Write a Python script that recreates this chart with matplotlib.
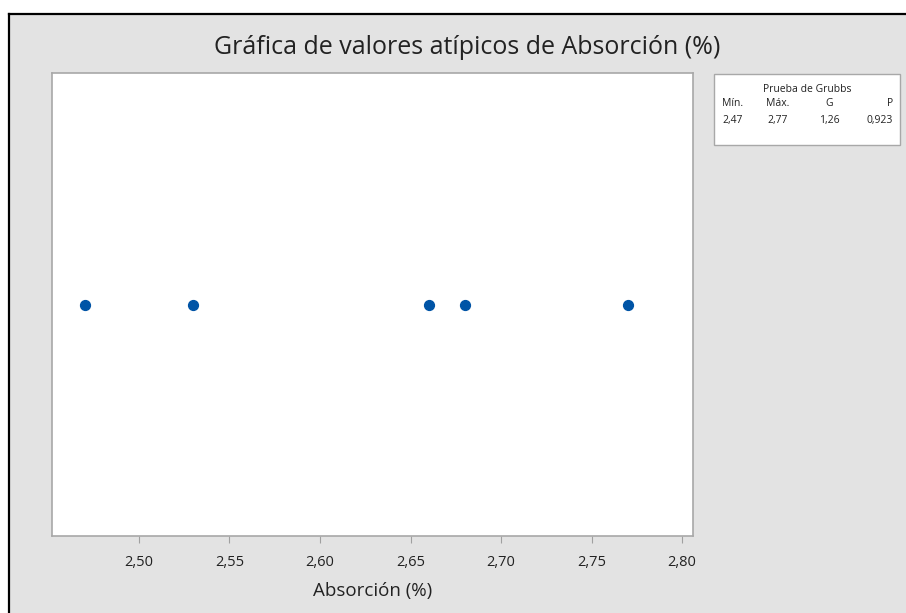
import matplotlib.pyplot as plt
from matplotlib.patches import Rectangle

# data
absorcion = [2.47, 2.53, 2.66, 2.68, 2.77]
xticks = [2.50, 2.55, 2.60, 2.65, 2.70, 2.75, 2.80]
grubbs_headers = ['Mín.', 'Máx.', 'G', 'P']
grubbs_values = ['2,47', '2,77', '1,26', '0,923']

W, H = 906, 613
plt.rcParams['font.family'] = ['Open Sans', 'DejaVu Sans']

fig = plt.figure(figsize=(W / 100, H / 100), dpi=100)
fig.patch.set_facecolor('white')

# gray panel with black border on top/left
fig.patches.append(Rectangle((9 / W, 0), 1, 1 - 14 / H, transform=fig.transFigure,
                             facecolor='#e3e3e3', edgecolor='none', zorder=-10))
fig.add_artist(plt.Line2D([9 / W, 1], [1 - 14 / H, 1 - 14 / H], color='black', lw=1.6,
                          transform=fig.transFigure))
fig.add_artist(plt.Line2D([9 / W, 9 / W], [0, 1 - 14 / H], color='black', lw=1.6,
                          transform=fig.transFigure))

# plot area
left, right, top, bottom = 52, 693, 73, 536
ax = fig.add_axes([left / W, 1 - bottom / H, (right - left) / W, (bottom - top) / H])
ax.set_facecolor('white')
ax.scatter(absorcion, [0] * len(absorcion), s=50, color='#0054a6', zorder=3)
ax.set_xlim(2.452, 2.806)
ax.set_ylim(-1, 1)
ax.set_yticks([])
ax.set_xticks(xticks)
ax.set_xticklabels([f'{t:.2f}'.replace('.', ',') for t in xticks], fontsize=10.5, color='#222222')
ax.tick_params(axis='x', direction='out', length=5, color='#a0a0a0', pad=9)
for s in ax.spines.values():
    s.set_color('#a8a8a8')
    s.set_linewidth(1.2)
ax.set_xlabel('Absorción (%)', fontsize=13.5, color='#222222', labelpad=8)

fig.text(467 / W, 1 - 47 / H, 'Gráfica de valores atípicos de Absorción (%)',
         ha='center', va='center', fontsize=18, color='#222222')

# Grubbs test box
bx0, bx1, by0, by1 = 714, 900, 74, 145
fig.patches.append(Rectangle((bx0 / W, 1 - by1 / H), (bx1 - bx0) / W, (by1 - by0) / H,
                             transform=fig.transFigure, facecolor='white',
                             edgecolor='#a8a8a8', lw=1, zorder=1))
fig.text(807 / W, 1 - 90 / H, 'Prueba de Grubbs', ha='center', va='center', fontsize=7.5, color='#222222')
cols = [733, 778, 829, 893]
for i, (x, h, v) in enumerate(zip(cols, grubbs_headers, grubbs_values)):
    ha = 'right' if i == len(cols) - 1 else 'center'
    fig.text(x / W, 1 - 104 / H, h, ha=ha, va='center', fontsize=7.5, color='#222222')
    fig.text(x / W, 1 - 120 / H, v, ha=ha, va='center', fontsize=7.5, color='#222222')

fig.savefig('out.png', dpi=100)
